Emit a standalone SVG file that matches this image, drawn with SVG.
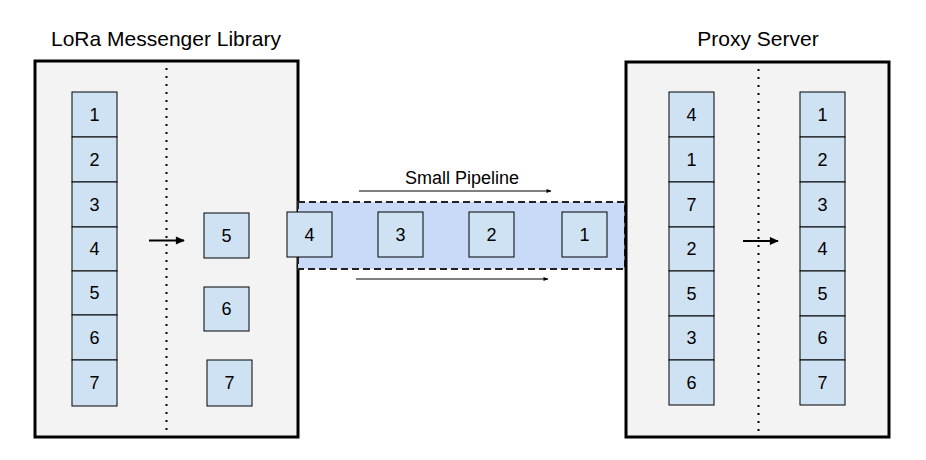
<svg xmlns="http://www.w3.org/2000/svg" width="926" height="460" viewBox="0 0 926 460">
<style>
.title{font-family:"Liberation Sans",Arial,sans-serif;font-size:21px;fill:#000;text-anchor:middle}
.num{font-family:"Liberation Sans",Arial,sans-serif;font-size:18px;fill:#000;text-anchor:middle;dominant-baseline:central}
.cell{fill:#cfe2f3;stroke:#000;stroke-width:1}
.frame{fill:#f3f3f3;stroke:#000;stroke-width:3}
.dots{stroke:#000;stroke-width:2;stroke-dasharray:2 6;fill:none}
.arr{stroke:#000;fill:none}
</style>
<defs>
<marker id="ah" viewBox="0 0 10 10" refX="9" refY="5" markerWidth="5" markerHeight="4.5" orient="auto" markerUnits="strokeWidth">
<path d="M0,0.5 L10,5 L0,9.5 z" fill="#000"/>
</marker>
<marker id="ah2" viewBox="0 0 10 10" refX="9" refY="5" markerWidth="6" markerHeight="5" orient="auto" markerUnits="strokeWidth">
<path d="M0,1 L10,5 L0,9 z" fill="#000"/>
</marker>
</defs>

<g id="lora-library">
<text class="title" x="166" y="46">LoRa Messenger Library</text>
<rect class="frame" x="35" y="61" width="263" height="376"/>
<line class="dots" x1="166.5" y1="68" x2="166.5" y2="432"/>
<g id="lora-queue">
<rect class="cell" x="72" y="92" width="45" height="45"/><text class="num" x="94.5" y="115">1</text>
<rect class="cell" x="72" y="137" width="45" height="45"/><text class="num" x="94.5" y="160">2</text>
<rect class="cell" x="72" y="182" width="45" height="45"/><text class="num" x="94.5" y="205">3</text>
<rect class="cell" x="72" y="227" width="45" height="44"/><text class="num" x="94.5" y="249">4</text>
<rect class="cell" x="72" y="271" width="45" height="44"/><text class="num" x="94.5" y="293">5</text>
<rect class="cell" x="72" y="315" width="45" height="45"/><text class="num" x="94.5" y="338">6</text>
<rect class="cell" x="72" y="360" width="45" height="46"/><text class="num" x="94.5" y="383">7</text>
</g>
<g id="lora-pending">
<rect class="cell" x="204" y="213" width="45" height="45"/><text class="num" x="226.5" y="236">5</text>
<rect class="cell" x="204" y="287" width="45" height="44"/><text class="num" x="226.5" y="309">6</text>
<rect class="cell" x="207" y="360" width="45" height="46"/><text class="num" x="229.5" y="383">7</text>
</g>
</g>

<g id="pipeline">
<rect x="298" y="202" width="327" height="67" fill="#c9daf8" stroke="#222" stroke-width="2" stroke-dasharray="7 4"/>
<text class="title" style="font-size:18px" x="462" y="184">Small Pipeline</text>
<rect class="cell" x="287" y="212" width="45" height="45"/><text class="num" x="309.5" y="235">4</text>
<rect class="cell" x="378" y="212" width="45" height="45"/><text class="num" x="400.5" y="235">3</text>
<rect class="cell" x="469" y="212" width="45" height="45"/><text class="num" x="491.5" y="235">2</text>
<rect class="cell" x="562" y="212" width="45" height="45"/><text class="num" x="584.5" y="235">1</text>
</g>

<g id="proxy-server">
<text class="title" x="758" y="46">Proxy Server</text>
<rect class="frame" x="626" y="62" width="263" height="375"/>
<line class="dots" x1="758.5" y1="69" x2="758.5" y2="432"/>
<g id="proxy-received">
<rect class="cell" x="669" y="92" width="45" height="45"/><text class="num" x="691.5" y="115">4</text>
<rect class="cell" x="669" y="137" width="45" height="45"/><text class="num" x="691.5" y="160">1</text>
<rect class="cell" x="669" y="182" width="45" height="45"/><text class="num" x="691.5" y="205">7</text>
<rect class="cell" x="669" y="227" width="45" height="44"/><text class="num" x="691.5" y="249">2</text>
<rect class="cell" x="669" y="271" width="45" height="45"/><text class="num" x="691.5" y="294">5</text>
<rect class="cell" x="669" y="316" width="45" height="44"/><text class="num" x="691.5" y="338">3</text>
<rect class="cell" x="669" y="360" width="45" height="45"/><text class="num" x="691.5" y="383">6</text>
</g>
<g id="proxy-ordered">
<rect class="cell" x="800" y="92" width="45" height="45"/><text class="num" x="822.5" y="115">1</text>
<rect class="cell" x="800" y="137" width="45" height="45"/><text class="num" x="822.5" y="160">2</text>
<rect class="cell" x="800" y="182" width="45" height="45"/><text class="num" x="822.5" y="205">3</text>
<rect class="cell" x="800" y="227" width="45" height="44"/><text class="num" x="822.5" y="249">4</text>
<rect class="cell" x="800" y="271" width="45" height="45"/><text class="num" x="822.5" y="294">5</text>
<rect class="cell" x="800" y="316" width="45" height="44"/><text class="num" x="822.5" y="338">6</text>
<rect class="cell" x="800" y="360" width="45" height="45"/><text class="num" x="822.5" y="383">7</text>
</g>
</g>

<g id="connectors">
<line class="arr" x1="149" y1="240.5" x2="184" y2="240.5" stroke-width="2" marker-end="url(#ah)"/>
<line class="arr" x1="743" y1="241" x2="778" y2="241" stroke-width="2" marker-end="url(#ah)"/>
<line class="arr" x1="359" y1="191" x2="551" y2="191" stroke-width="1" marker-end="url(#ah2)"/>
<line class="arr" x1="356" y1="279" x2="548" y2="279" stroke-width="1" marker-end="url(#ah2)"/>
</g>
</svg>
